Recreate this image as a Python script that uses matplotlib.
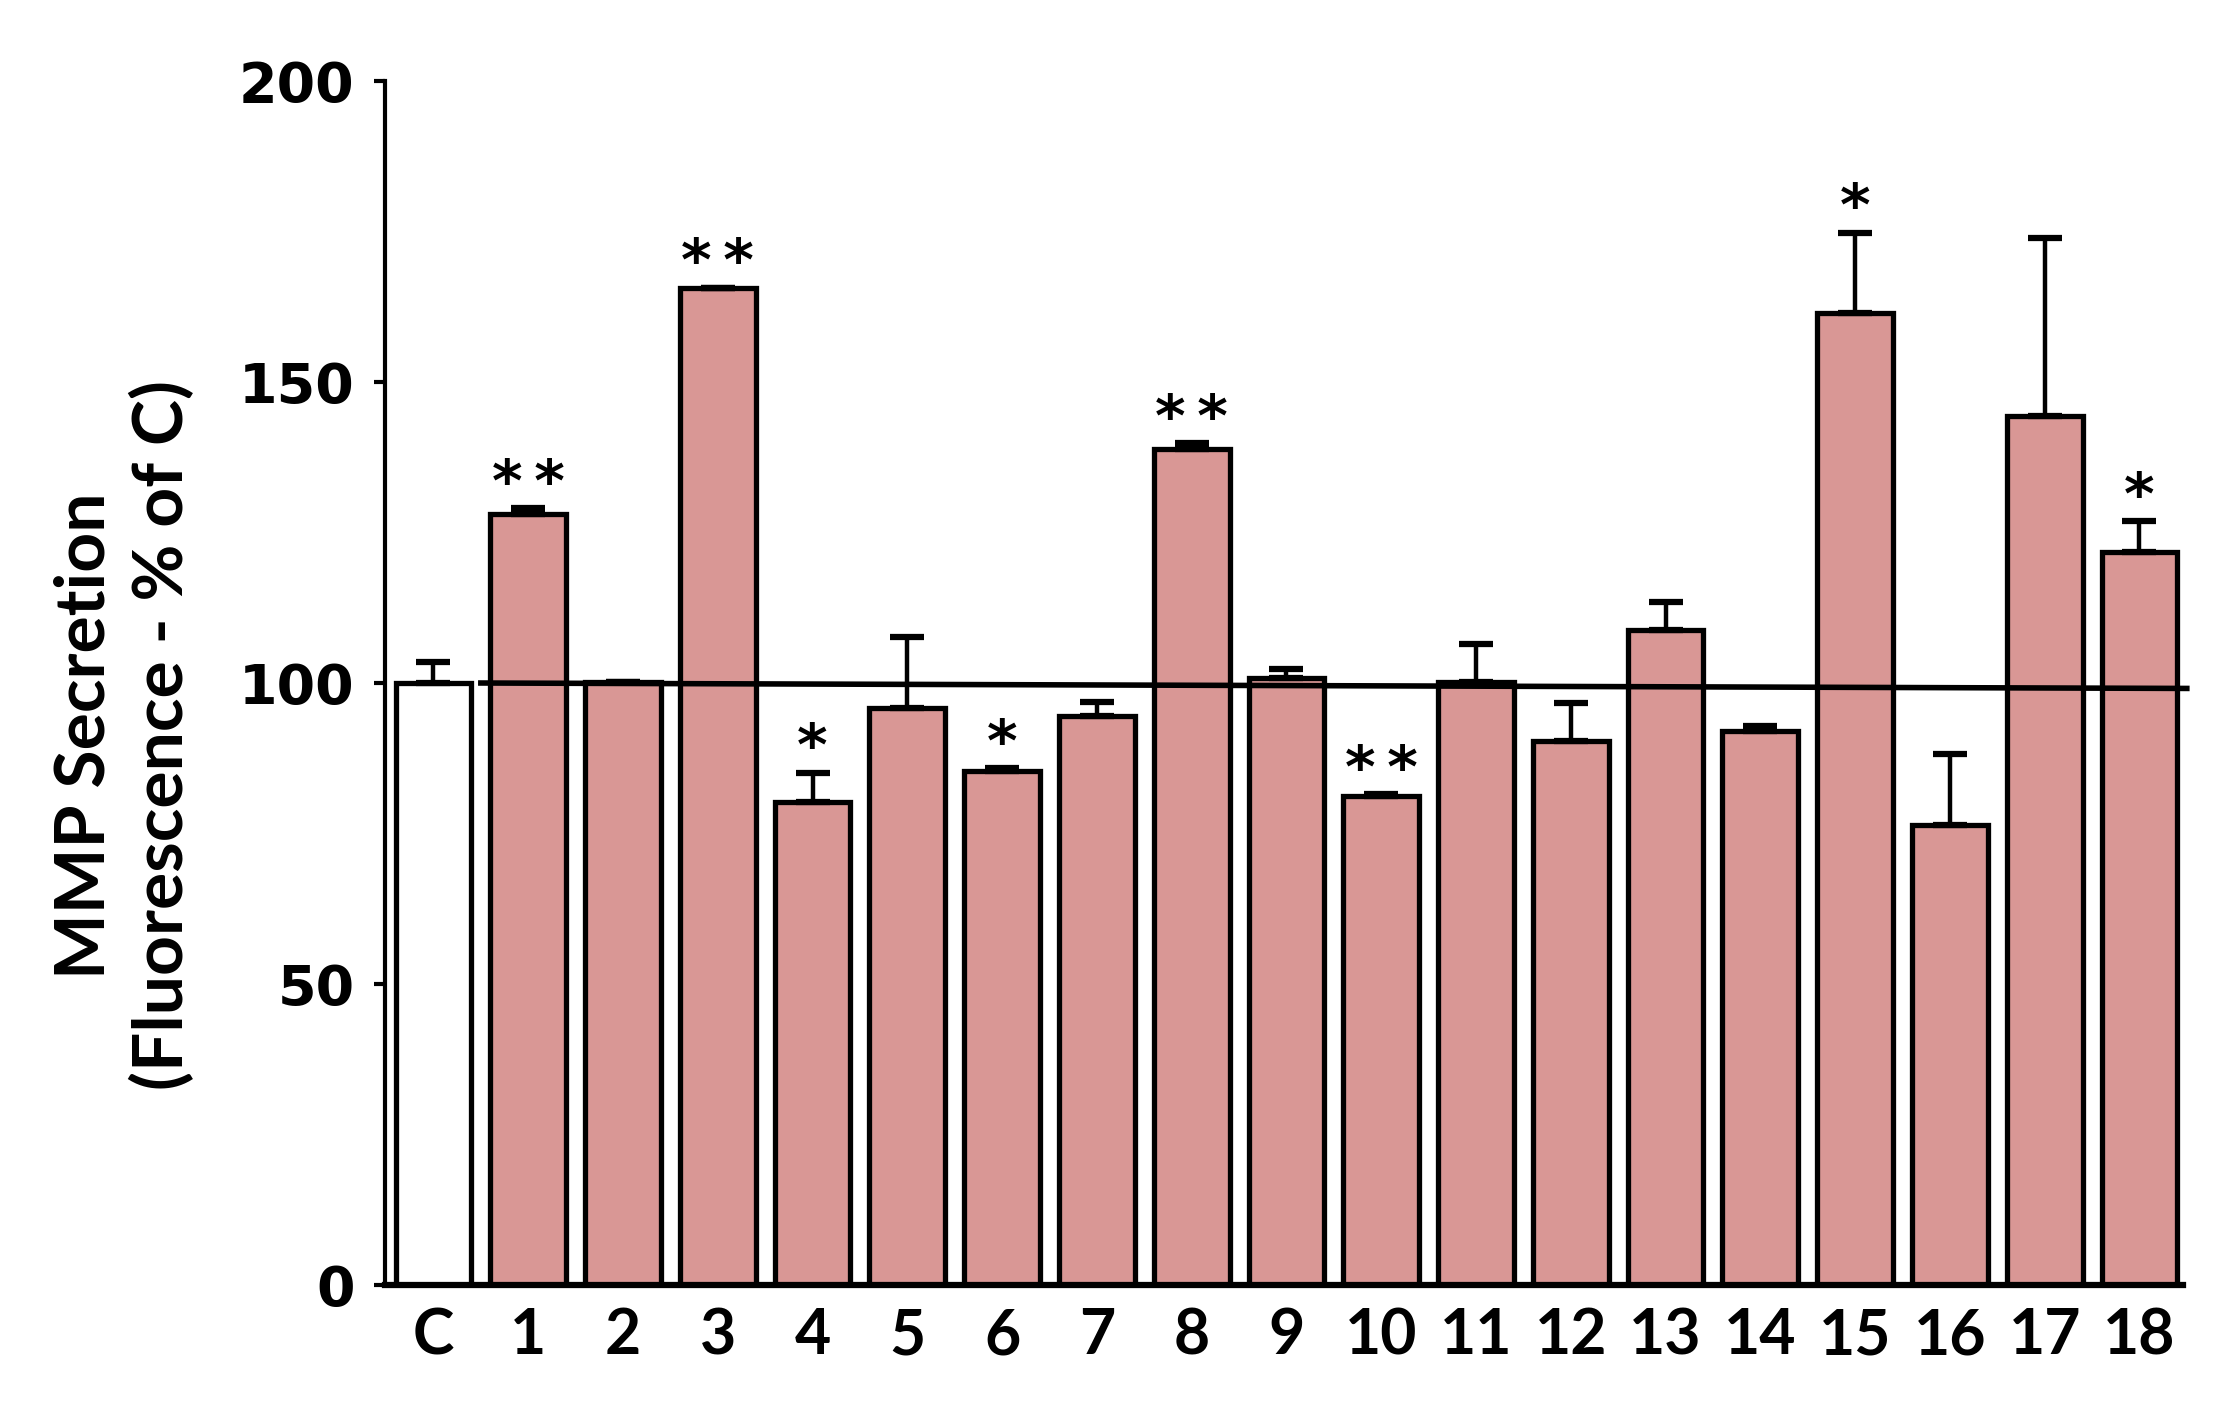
import matplotlib
matplotlib.use("Agg")
import matplotlib.pyplot as plt
import numpy as np

# data
labels = ["C", "1", "2", "3", "4", "5", "6", "7", "8", "9",
          "10", "11", "12", "13", "14", "15", "16", "17", "18"]
values = [100, 128.1, 100.1, 165.7, 80.3, 95.8, 85.4, 94.6, 138.9, 100.9,
          81.2, 100.1, 90.4, 108.8, 92.0, 161.5, 76.4, 144.4, 121.8]
errors = [3.5, 1.0, 0.0, 0.0, 4.8, 11.9, 0.5, 2.3, 1.0, 1.5,
          0.3, 6.3, 6.3, 4.7, 0.8, 13.3, 11.8, 29.5, 5.1]
stars = ["", "**", "", "**", "*", "", "*", "", "**", "",
         "**", "", "", "", "", "*", "", "", "*"]
ref_x = [0.5, 18.5]
ref_y = [100, 99.1]

pink = "#D99795"
colors = ["white"] + [pink] * (len(labels) - 1)

fig = plt.figure(figsize=(22.39, 14.09), dpi=100)
ax = fig.add_axes([0.172, 0.088, 0.803, 0.8545])

x = np.arange(len(labels))
ax.bar(x, values, width=0.8, color=colors, edgecolor="black", linewidth=3.8, zorder=2)
ax.errorbar(x, values, yerr=[np.zeros(len(errors)), errors], fmt="none",
            ecolor="black", elinewidth=3.2, capsize=12, capthick=4.5, zorder=3)

ax.plot(ref_x, ref_y, color="black", linewidth=4, zorder=4, clip_on=False)

for xi, v, e, s in zip(x, values, errors, stars):
    if s:
        ax.text(xi, v + e + 1.2, "\u2009".join(s), ha="center", va="baseline",
                fontsize=42, fontweight="bold", family="DejaVu Sans", zorder=5)

ax.set_xlim(-0.51, 18.46)
ax.set_ylim(0, 200)
ax.set_yticks([0, 50, 100, 150, 200])
ax.set_xticks(x)
ax.set_xticklabels(labels, family="Lato", fontweight="bold", fontsize=45)
ax.set_yticklabels(["0", "50", "100", "150", "200"], family="DejaVu Sans",
                   fontweight="bold", fontsize=40)
ax.tick_params(axis="x", length=0, pad=16)
ax.tick_params(axis="y", length=8, width=3, pad=14, direction="out")

ax.spines["top"].set_visible(False)
ax.spines["right"].set_visible(False)
ax.spines["left"].set_linewidth(3)
ax.spines["bottom"].set_linewidth(4.5)

fig.text(0.0555, 0.478, "MMP Secretion\n(Fluorescence - % of C)", rotation=90,
         ha="center", va="center", multialignment="center", linespacing=1.25,
         family="Lato", fontweight="bold", fontsize=50)

fig.savefig("out.png", dpi=100)
